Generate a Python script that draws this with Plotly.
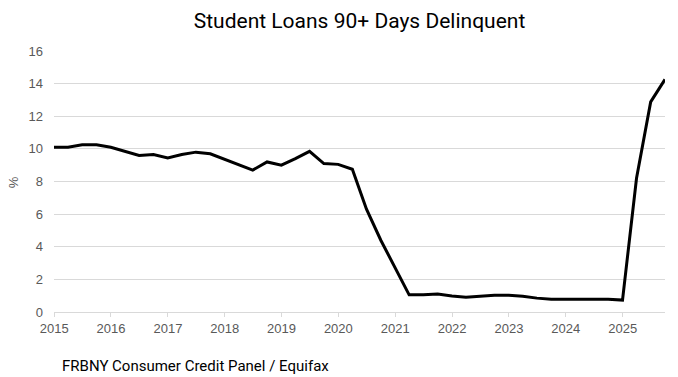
import plotly.graph_objects as go
import pandas as pd

title_text = "Student Loans 90+ Days Delinquent"
source_text = "FRBNY Consumer Credit Panel / Equifax"

# quarter-end dates 2014Q4 .. 2025Q3
quarters = pd.date_range("2014-12-31", periods=44, freq="QE")
values = [
    10.1, 10.1, 10.25, 10.25, 10.1, 9.85, 9.6, 9.65, 9.45, 9.65, 9.8, 9.7,
    9.35, 9.0, 8.7, 9.2, 9.0, 9.4, 9.85, 9.1, 9.05, 8.75,
    6.3, 4.4, 2.75, 1.05, 1.05, 1.1, 0.98, 0.9, 0.97, 1.02, 1.02, 0.97,
    0.85, 0.78, 0.78, 0.78, 0.78, 0.78, 0.73, 8.2, 12.88, 14.26,
]
year_ticks = [f"{y}-01-01" for y in range(2015, 2026)]
year_labels = [str(y) for y in range(2015, 2026)]
y_ticks = [0, 2, 4, 6, 8, 10, 12, 14, 16]

TITLE_FONT = "Roboto, sans-serif"
TICK_FONT = "Liberation Sans, Arial, sans-serif"

fig = go.Figure()
fig.add_trace(go.Scatter(
    x=quarters, y=values, mode="lines",
    line=dict(color="black", width=3),
    hoverinfo="skip", showlegend=False,
))

fig.update_layout(
    width=678, height=377,
    margin=dict(l=54, r=13, t=51, b=65),
    paper_bgcolor="white", plot_bgcolor="white",
    font=dict(family=TICK_FONT, color="#595959", size=13),
    title=dict(text=title_text, x=0.5, xanchor="center", xref="paper",
               y=1 - 21 / 377, yref="container", yanchor="middle",
               font=dict(family=TITLE_FONT, size=21, color="black")),
    xaxis=dict(
        type="date", range=["2014-12-31", "2025-09-30"],
        tickvals=year_ticks, ticktext=year_labels,
        showgrid=False, showline=True, linecolor="#d9d9d9", linewidth=1,
        ticks="outside", ticklen=4, tickcolor="#d9d9d9",
        tickfont=dict(family=TICK_FONT, size=13, color="#595959"),
        zeroline=False,
    ),
    yaxis=dict(
        range=[0, 16], tickvals=y_ticks,
        showgrid=True, gridcolor="#d9d9d9", gridwidth=1,
        showline=False, zeroline=False, ticks="",
        tickfont=dict(family=TICK_FONT, size=13, color="#595959"),
        ticklabelstandoff=10,
    ),
)

fig.add_annotation(text="%", xref="paper", yref="paper", x=-0.067, y=0.497,
                   xanchor="center", yanchor="middle",
                   textangle=-90, showarrow=False,
                   font=dict(family=TICK_FONT, size=13, color="#595959"))
fig.add_annotation(text=source_text, xref="paper", yref="paper",
                   x=0.0098, xanchor="left", y=-0.208, yanchor="middle",
                   showarrow=False,
                   font=dict(family=TITLE_FONT, size=15, color="black"))

fig.write_html("out.html")
